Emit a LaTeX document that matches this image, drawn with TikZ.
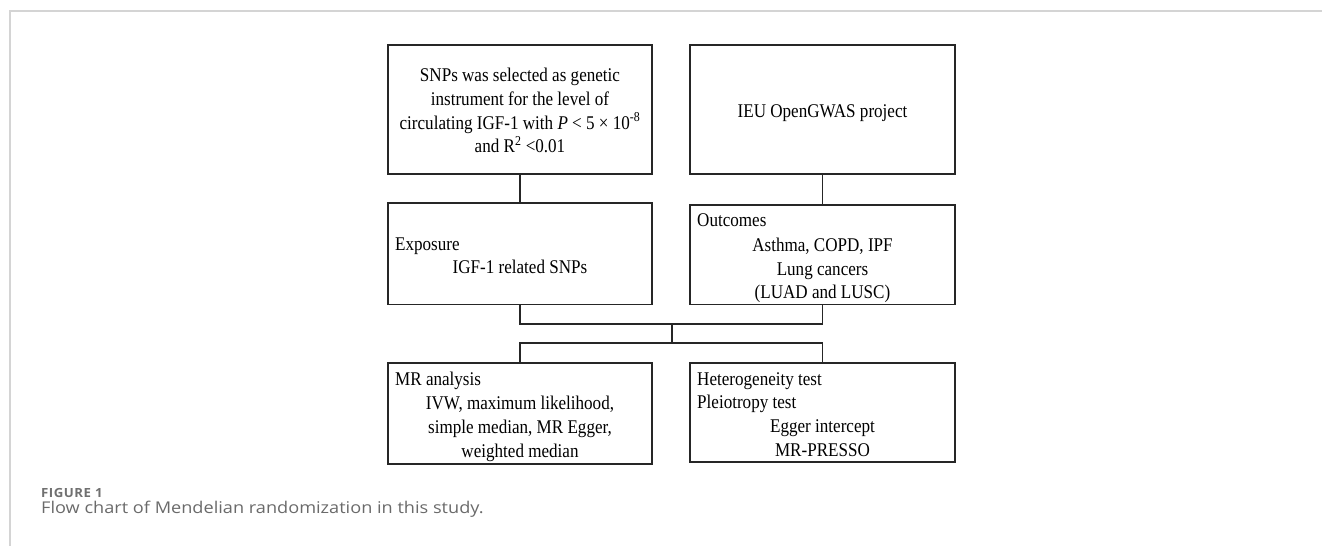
\documentclass[tikz,border=0pt]{standalone}
\usepackage{fontspec}
\setmainfont[FakeStretch=0.88]{Liberation Serif}
\newfontfamily\capfont[FakeStretch=1.12]{Open Sans}
\newfontfamily\figfont[LetterSpace=4,FakeStretch=1.05]{Open Sans}
\definecolor{frameline}{HTML}{D4D4D4}
\definecolor{boxline}{HTML}{262626}
\definecolor{capgray}{HTML}{6A6A6A}
\definecolor{figgray}{HTML}{707070}
\begin{document}
\begin{tikzpicture}[x=1pt,y=-1pt,
  box/.style={draw=boxline,line width=1.6pt,rectangle,inner sep=0pt},
  conn/.style={draw=boxline,line width=1.6pt},
  txt/.style={anchor=base,inner sep=0pt,font=\fontsize{19.4}{24}\selectfont},
  ltxt/.style={anchor=base west,inner sep=0pt,font=\fontsize{19.4}{24}\selectfont}]
\useasboundingbox (0,0) rectangle (1322,546);
% frame
\draw[frameline,line width=1.3pt] (1322,11) -- (10,11) -- (10,546);
% boxes
\node[box,minimum width=264pt,minimum height=129.3pt] (b1) at (520,109.35) {};
\node[box,minimum width=265pt,minimum height=129.3pt] (b3) at (822.5,109.35) {};
\node[box,minimum width=264pt,minimum height=101.6pt] (b2) at (520,253.5) {};
\node[box,minimum width=265pt,minimum height=99.6pt] (b4) at (822.5,254.5) {};
\node[box,minimum width=264pt,minimum height=101.3pt] (b5) at (520,413.35) {};
\node[box,minimum width=265pt,minimum height=99.3pt] (b6) at (822.5,412.35) {};
% texts
\node[txt] (t11) at (520,81.7) {SNPs was selected as genetic};
\node[txt] (t12) at (520,105.6) {instrument for the level of};
\node[txt] (t13) at (520,129.3) {circulating IGF-1 with \textit{P} < 5 × 10\textsuperscript{-8}};
\node[txt] (t14) at (520,152.9) {and R\textsuperscript{2} <0.01};
\node[txt] (t31) at (822.5,117.3) {IEU OpenGWAS project};
\node[ltxt] (t21) at (395,250) {Exposure};
\node[txt] (t22) at (520,273.3) {IGF-1 related SNPs};
\node[ltxt] (t41) at (697,226.7) {Outcomes};
\node[txt] (t42) at (822.5,251.5) {Asthma, COPD, IPF};
\node[txt] (t43) at (822.5,275) {Lung cancers};
\node[txt] (t44) at (822.5,298.3) {(LUAD and LUSC)};
\node[ltxt] (t51) at (395,385.7) {MR analysis};
\node[txt] (t52) at (520,409.3) {IVW, maximum likelihood,};
\node[txt] (t53) at (520,433.3) {simple median, MR Egger,};
\node[txt] (t54) at (520,457.3) {weighted median};
\node[ltxt] (t61) at (697,385) {Heterogeneity test};
\node[ltxt] (t62) at (697,408.5) {Pleiotropy test};
\node[txt] (t63) at (822.5,432.5) {Egger intercept};
\node[txt] (t64) at (822.5,456) {MR-PRESSO};
% connectors
\coordinate (j1) at (672,324);
\coordinate (j2) at (672,343);
\draw[conn] (b1.south) -- (b2.north);
\draw[conn] (b3.south) -- (b4.north);
\draw[conn] (b2.south) |- (j1) -| (b4.south);
\draw[conn] (j1) -- (j2);
\draw[conn] (b5.north) |- (j2) -| (b6.north);
% caption
\node[anchor=base west,inner sep=0pt,text=figgray,font=\figfont\bfseries\fontsize{12.6}{14}\selectfont] (fig) at (41,497) {FIGURE 1};
\node[anchor=base west,inner sep=0pt,text=capgray,font=\capfont\fontsize{16.2}{19}\selectfont] (cap) at (41,513.3) {Flow chart of Mendelian randomization in this study.};
\end{tikzpicture}
\end{document}
